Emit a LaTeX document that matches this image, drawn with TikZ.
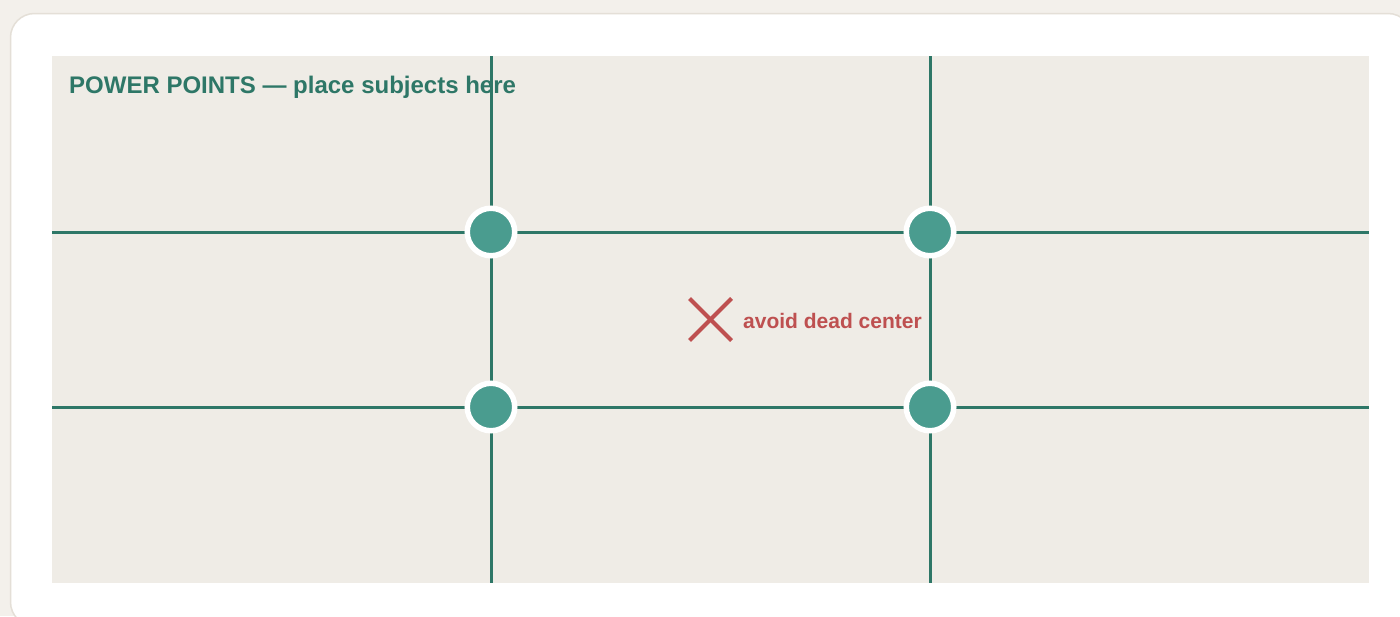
\documentclass[tikz,border=0pt]{standalone}
\usepackage{fontspec}
\setmainfont{Liberation Sans}
\usetikzlibrary{calc}
\usepackage{xcolor}
\definecolor{pagebg}{HTML}{F3F0EB}
\definecolor{cardline}{HTML}{E4DFD7}
\definecolor{panelbg}{HTML}{EFECE6}
\definecolor{gridteal}{HTML}{2E7767}
\definecolor{dotteal}{HTML}{4A9C8F}
\definecolor{warnred}{HTML}{BE5050}

\tikzset{
  gridline/.style={gridteal, line width=3pt},
  powerdot/.style={circle, fill=dotteal, draw=white, line width=5.5pt, minimum size=47.5pt, inner sep=0pt},
}

\begin{document}
\begin{tikzpicture}[x=1pt,y=-1pt]
  % page and card
  \clip (0,0) rectangle (1400,616);
  \fill[pagebg] (0,0) rectangle (1400,616);
  \draw[cardline, fill=white, line width=1.5pt, rounded corners=24pt] (10.5,13.5) rectangle (1412,626);
  % frame of the picture
  \fill[panelbg] (52,56) rectangle (1369,583);
  \node[anchor=base west, gridteal, font=\bfseries\fontsize{24}{28}\selectfont, inner sep=0pt] (title) at (69,93) {POWER POINTS — place subjects here};

  % thirds
  \coordinate (t1) at (491,56);  \coordinate (b1) at (491,583);
  \coordinate (t2) at (930,56);  \coordinate (b2) at (930,583);
  \coordinate (l1) at (52,232);  \coordinate (r1) at (1369,232);
  \coordinate (l2) at (52,407);  \coordinate (r2) at (1369,407);
  \draw[gridline] (t1) -- (b1);
  \draw[gridline] (t2) -- (b2);
  \draw[gridline] (l1) -- (r1);
  \draw[gridline] (l2) -- (r2);

  % power points
  \node[powerdot] (p1) at (491,232) {};
  \node[powerdot] (p2) at (930,232) {};
  \node[powerdot] (p3) at (491,407) {};
  \node[powerdot] (p4) at (930,407) {};

  % center warning
  \coordinate (mid) at (710.5,319.5);
  \draw[warnred, line width=4pt] ($(mid)+(-21,-21)$) -- ($(mid)+(21,21)$);
  \draw[warnred, line width=4pt] ($(mid)+(-21,21)$) -- ($(mid)+(21,-21)$);
  \node[anchor=base west, warnred, font=\bfseries\fontsize{21}{25}\selectfont, inner sep=0pt] (avoid) at (743,328) {avoid dead center};
\end{tikzpicture}
\end{document}
